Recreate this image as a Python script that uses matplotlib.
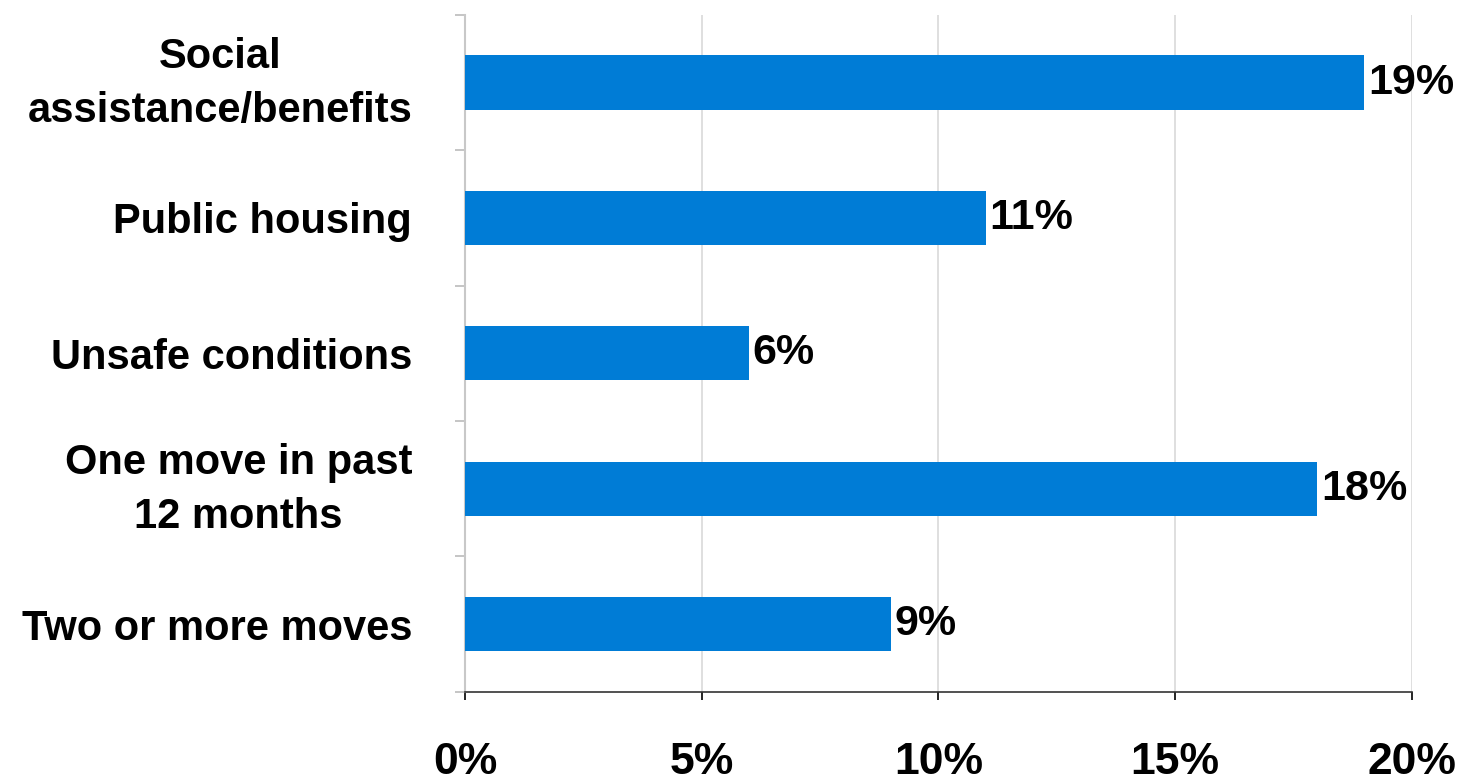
import matplotlib.pyplot as plt
from matplotlib.ticker import FuncFormatter
from matplotlib.transforms import ScaledTranslation

plt.rcParams['font.family'] = ['Liberation Sans', 'DejaVu Sans']

# Categories top to bottom and their shares (%)
categories = ["Social\nassistance/benefits", "Public housing", "Unsafe conditions",
              "One move in past\n12 months", "Two or more moves"]
values = [19, 11, 6, 18, 9]
x_ticks = [0, 5, 10, 15, 20]

fig = plt.figure(figsize=(14.6, 7.8), dpi=100)
ax = fig.add_axes([0.3185, 0.113, 0.6485, 0.868])

pos = list(range(len(categories)))
ax.barh(pos, values, height=0.4, color="#007CD6", zorder=3)
for p, v in zip(pos, values):
    ax.text(v + 0.08, p, f"{v}%", va="center", ha="left",
            fontsize=31, fontweight="bold", color="black", zorder=4)

ax.set_xlim(0, 20)
ax.set_ylim(len(categories) - 0.5, -0.5)
ax.set_xticks(x_ticks)
ax.xaxis.set_major_formatter(FuncFormatter(lambda x, _: f"{x:.0f}%"))
ax.tick_params(axis="x", labelsize=32, length=6, width=1.2, color="black", pad=30)
for lab in ax.get_xticklabels():
    lab.set_fontweight("bold")

# category labels on y axis, ticks at band boundaries
ax.set_yticks(pos)
ax.set_yticklabels(categories, fontsize=30, fontweight="bold",
                   multialignment="center", linespacing=1.45)
ax.tick_params(axis="y", length=0, pad=38)
# two-line labels sit a bit higher in the original
for lab in ax.get_yticklabels():
    if "\n" in lab.get_text():
        lab.set_transform(lab.get_transform() + ScaledTranslation(0, 0.1, fig.dpi_scale_trans))
ax.set_yticks([p - 0.5 for p in pos] + [len(pos) - 0.5], minor=True)
ax.tick_params(axis="y", which="minor", length=7, color="#bbbbbb", width=1.2)

ax.grid(axis="x", color="#d9d9d9", linewidth=1.2, zorder=0)
for s in ["top", "right"]:
    ax.spines[s].set_visible(False)
ax.spines["left"].set_color("#c8c8c8")
ax.spines["left"].set_linewidth(1.5)
ax.spines["bottom"].set_color("#333333")
ax.spines["bottom"].set_linewidth(1.2)

plt.savefig("out.png", dpi=100)
